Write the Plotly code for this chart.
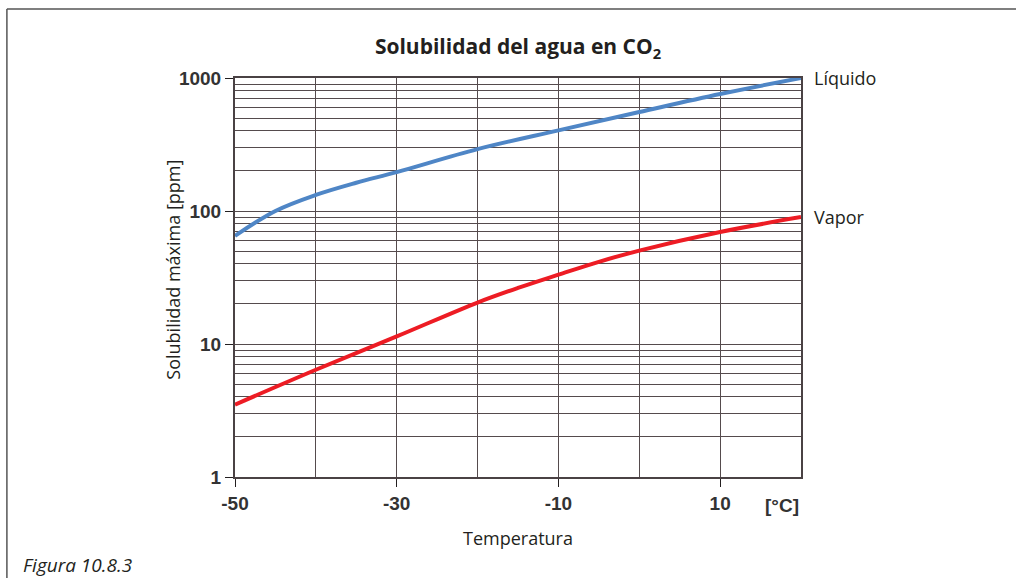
import math

import plotly.graph_objects as go

# Solubility of water in CO2 (ppm)
temp_liquido = [-50, -45, -40, -35, -30, -20, -10, 0, 10, 20]
sol_liquido = [65, 100, 132, 163, 196, 292, 404, 555, 758, 1000]

temp_vapor = [-50, -40, -30, -20, -15, -10, -5, 0, 10, 20]
sol_vapor = [3.5, 6.4, 11.4, 20.5, 26.4, 33.2, 41.5, 50.4, 69.5, 90]

x_ticks = [-50, -30, -10, 10]
x_ticktext = ["-50", "-30", "-10", "10"]
y_ticks = [1, 10, 100, 1000]
y_ticktext = ["1", "10", "100", "1000"]

grid_col = "#554b4d"
text_col = "#231f20"
label_font = "Liberation Sans"
body_font = "Open Sans"

fig = go.Figure()
fig.add_trace(
    go.Scatter(
        x=temp_liquido,
        y=sol_liquido,
        mode="lines",
        line=dict(color="#4f86c6", width=4, shape="spline"),
        name="Líquido",
    )
)
fig.add_trace(
    go.Scatter(
        x=temp_vapor,
        y=sol_vapor,
        mode="lines",
        line=dict(color="#ed1c24", width=4, shape="spline"),
        name="Vapor",
    )
)

# minor log grid: 2..9 in every decade
minor_vals = [m * 10**d for d in range(3) for m in range(2, 10)]

fig.update_xaxes(
    range=[-50, 20],
    tickvals=x_ticks,
    ticktext=x_ticktext,
    ticks="outside",
    ticklen=8,
    tickcolor=text_col,
    tickfont=dict(family=label_font, size=19, color="#333333", weight="bold"),
    showgrid=True,
    gridcolor=grid_col,
    gridwidth=1,
    minor=dict(dtick=10, tick0=-50, showgrid=True, gridcolor=grid_col, gridwidth=1, ticks=""),
    showline=True,
    linecolor="#4a4244",
    linewidth=2,
    mirror=True,
    zeroline=False,
    title=dict(text="Temperatura", font=dict(family=body_font, size=18, color=text_col), standoff=20),
)
fig.update_yaxes(
    type="log",
    range=[0, 3],
    tickvals=y_ticks,
    ticktext=y_ticktext,
    ticks="outside",
    ticklen=8,
    tickcolor=text_col,
    tickfont=dict(family=label_font, size=19, color="#333333", weight="bold"),
    showgrid=True,
    gridcolor=grid_col,
    gridwidth=1,
    minor=dict(tickvals=minor_vals, showgrid=True, gridcolor=grid_col, gridwidth=1, ticks=""),
    showline=True,
    linecolor="#4a4244",
    linewidth=2,
    mirror=True,
    zeroline=False,
)

# y title placed by hand, closer to the tick labels than plotly allows
fig.add_annotation(x=-0.111, xref="paper", y=0.52, yref="paper", text="Solubilidad máxima [ppm]",
                   textangle=-90, showarrow=False, xanchor="center", yanchor="middle",
                   font=dict(family=body_font, size=18, color=text_col))

# curve labels at the right end of each curve (log axis -> log10 position)
fig.add_annotation(x=1.02, xref="paper", y=math.log10(sol_liquido[-1]), yref="y", text="Líquido",
                   showarrow=False, xanchor="left", yanchor="middle",
                   font=dict(family=body_font, size=18, color=text_col))
fig.add_annotation(x=1.02, xref="paper", y=math.log10(sol_vapor[-1]), yref="y", text="Vapor",
                   showarrow=False, xanchor="left", yanchor="middle",
                   font=dict(family=body_font, size=18, color=text_col))
fig.add_annotation(x=1.0, xref="paper", y=-0.072, yref="paper", text="[°C]", showarrow=False,
                   xanchor="right", yanchor="middle",
                   font=dict(family=label_font, size=19, color="#333333", weight="bold"))
fig.add_annotation(x=-0.378, xref="paper", y=-0.22, yref="paper", text="<i>Figura 10.8.3</i>",
                   showarrow=False, xanchor="left", yanchor="middle",
                   font=dict(family=body_font, size=19, color=text_col))

# outer frame: top and left edges
fig.add_shape(type="line", xref="paper", yref="paper", x0=-0.403, x1=1.4, y0=1.173, y1=1.173,
              line=dict(color="#555555", width=1.5))
fig.add_shape(type="line", xref="paper", yref="paper", x0=-0.403, x1=-0.403, y0=1.173, y1=-0.26,
              line=dict(color="#555555", width=1.5))

fig.update_layout(
    width=1016,
    height=578,
    margin=dict(l=235, r=215, t=78, b=101),
    paper_bgcolor="white",
    plot_bgcolor="white",
    showlegend=False,
    title=dict(
        text="<b>Solubilidad del agua en CO<sub>2</sub></b>",
        x=0.5,
        xref="paper",
        y=1 - 47 / 578,
        yanchor="middle",
        font=dict(family=body_font, size=21, color=text_col),
    ),
)

fig.write_html(
    "out.html",
    config={"displayModeBar": False},
    post_script="document.body.style.margin='0px';",
)
